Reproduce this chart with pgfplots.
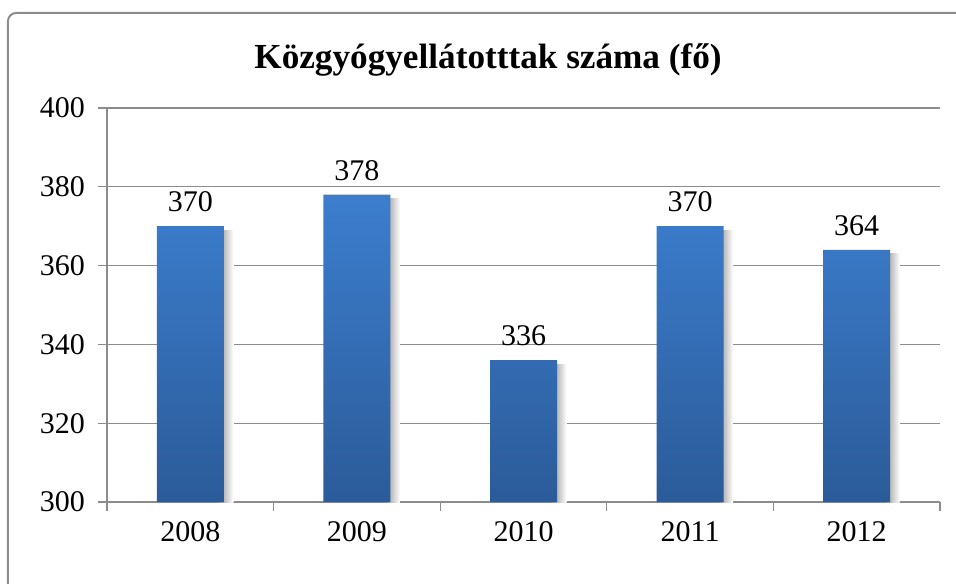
\documentclass[border=0pt]{standalone}
\usepackage{fontspec}
\setmainfont{Liberation Serif}
\usepackage{pgfplots}
\pgfplotsset{compat=1.18}
\usetikzlibrary{calc}

\definecolor{bartop}{RGB}{60,126,206}
\definecolor{barbot}{RGB}{43,91,153}
\definecolor{gridc}{RGB}{140,140,140}

\begin{document}
\begin{tikzpicture}
\begin{axis}[
  name=ax,
  scale only axis,
  width=416.5pt, height=197pt,
  xmin=-0.5, xmax=4.5,
  ymin=300, ymax=400,
  ytick={300,320,...,400},
  xtick={-0.5,0.5,...,4.5},
  xticklabels={},
  extra x ticks={0,1,2,3,4},
  extra x tick labels={2008,2009,2010,2011,2012},
  extra x tick style={major tick length=0pt},
  axis x line*=bottom, axis y line*=left,
  axis line style={gridc, line width=0.6pt},
  ymajorgrids,
  grid style={gridc, line width=0.6pt},
  tick align=outside,
  major tick length=4.5pt,
  tick style={gridc, line width=0.6pt},
  tick label style={font=\fontsize{15}{18}\selectfont},
  /pgf/number format/assume math mode=true,
  xticklabel style={yshift=-6pt},
  yticklabel style={xshift=-3pt},
  ybar,
  bar width=33.5pt,
  shadow/.style={draw=none, bar width=7pt, bar shift=18pt,
    left color=black!40, right color=white},
]
% soft shadow to the right of each bar
\addplot[shadow] coordinates {(0,369)};
\addplot[shadow] coordinates {(1,377)};
\addplot[shadow] coordinates {(2,335)};
\addplot[shadow] coordinates {(3,369)};
\addplot[shadow] coordinates {(4,363)};
\addplot[draw=none, bar shift=0pt, top color=bartop, bottom color=barbot,
  nodes near coords,
  nodes near coords style={font=\fontsize{15}{18}\selectfont, text=black, yshift=3.5pt}]
  coordinates {(0,370) (1,378) (2,336) (3,370) (4,364)};
\end{axis}
\node[font=\bfseries\fontsize{17.6}{21}\selectfont] at ($(ax.north west)+(190.5pt,24pt)$)
  {Közgyógyellátotttak száma (fő)};
\path[use as bounding box] ($(ax.north west)+(-53.5pt,54pt)$) rectangle ($(ax.south east)+(8pt,-40.5pt)$);
\draw[gridc, line width=1pt, rounded corners=4pt]
  ($(ax.north west)+(-49.5pt,47.5pt)$) rectangle ($(ax.south east)+(40pt,-60pt)$);
\end{tikzpicture}
\end{document}
